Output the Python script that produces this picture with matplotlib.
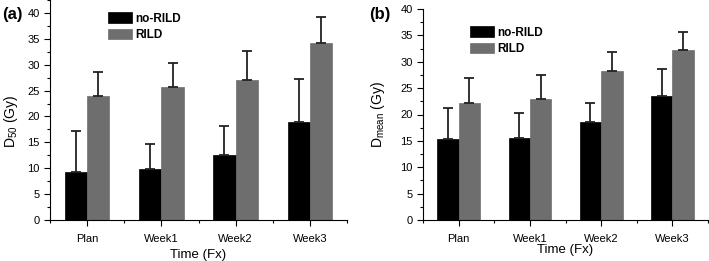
import numpy as np
import matplotlib
matplotlib.use("Agg")
import matplotlib.pyplot as plt
from matplotlib.ticker import MultipleLocator, FixedLocator

plt.rcParams['font.family'] = ['Liberation Sans', 'DejaVu Sans']
plt.rcParams['mathtext.fontset'] = 'custom'
plt.rcParams['mathtext.rm'] = 'Liberation Sans'
plt.rcParams['mathtext.it'] = 'Liberation Sans:italic'

weeks = ['Plan', 'Week1', 'Week2', 'Week3']

# panel (a) D50
d50_norild = [9.2, 9.9, 12.6, 19.0]
d50_norild_sd = [7.9, 4.7, 5.6, 8.3]
d50_rild = [24.0, 25.6, 27.1, 34.2]
d50_rild_sd = [4.5, 4.8, 5.6, 5.0]

# panel (b) Dmean
dmean_norild = [15.4, 15.6, 18.5, 23.6]
dmean_norild_sd = [5.8, 4.6, 3.7, 5.1]
dmean_rild = [22.2, 22.9, 28.3, 32.3]
dmean_rild_sd = [4.7, 4.6, 3.6, 3.3]

black = '#000000'
grey = '#6e6e6e'
w = 0.3

fig = plt.figure(figsize=(7.09, 2.61), dpi=100)
ax_a = fig.add_axes([50/709, 41/261, 297/709, 220/261])
ax_b = fig.add_axes([423/709, 41/261, 285/709, 211/261])


def panel(ax, no, no_sd, yes, yes_sd, ymax, ylabel, leg_anchor):
    x = np.arange(len(weeks))
    ekw = dict(ecolor='#222222', elinewidth=1.3, capthick=1.3)
    b1 = ax.bar(x - w/2, no, w, color=black, edgecolor=black, lw=0.5,
                yerr=[np.zeros(4), no_sd], capsize=3.5, error_kw=ekw,
                label='no-RILD', zorder=2)
    b2 = ax.bar(x + w/2, yes, w, color=grey, edgecolor=grey, lw=0.5,
                yerr=[np.zeros(4), yes_sd], capsize=3.5, error_kw=ekw,
                label='RILD', zorder=2)
    ax.set_xlim(-0.5, 3.5)
    ax.set_ylim(0, ymax)
    ax.set_xticks(x)
    ax.set_xticklabels(weeks, fontsize=8)
    ax.xaxis.set_minor_locator(FixedLocator(np.arange(-0.5, 3.6, 1)))
    ax.yaxis.set_major_locator(FixedLocator(np.arange(0, 41, 5)))
    ax.yaxis.set_minor_locator(MultipleLocator(2.5))
    ax.tick_params(axis='both', which='major', direction='out', length=4,
                   width=0.8, labelsize=8)
    ax.tick_params(axis='both', which='minor', direction='out', length=2,
                   width=0.8)
    ax.tick_params(axis='x', which='major', pad=6)
    for s in ['top', 'right']:
        ax.spines[s].set_visible(False)
    for s in ['left', 'bottom']:
        ax.spines[s].set_linewidth(0.8)
    ax.set_ylabel(ylabel, fontsize=10)
    ax.set_xlabel('Time (Fx)', fontsize=9.5)
    ax.legend(handles=[b1, b2], loc='upper left', bbox_to_anchor=leg_anchor,
              frameon=False, handlelength=2.0, handleheight=1.0,
              handletextpad=0.3, labelspacing=0.35, borderaxespad=0,
              prop=dict(weight='bold', size=8.5))


panel(ax_a, d50_norild, d50_norild_sd, d50_rild, d50_rild_sd, 42.5,
      r'D$_{50}$ (Gy)', (0.18, 0.965))
panel(ax_b, dmean_norild, dmean_norild_sd, dmean_rild, dmean_rild_sd, 40,
      r'D$_{\mathrm{mean}}$ (Gy)', (0.15, 0.94))

ax_a.yaxis.set_label_coords(-0.1, 0.45)
ax_b.yaxis.set_label_coords(-0.125, 0.5)
ax_a.xaxis.set_label_coords(0.5, -0.13)
ax_b.xaxis.set_label_coords(0.5, -0.115)

fig.text(2/709, 1 - 14/261, '(a)', fontsize=12, fontweight='bold', va='center')
fig.text(369/709, 1 - 15/261, '(b)', fontsize=12, fontweight='bold', va='center')

fig.savefig('out.png', dpi=100)
